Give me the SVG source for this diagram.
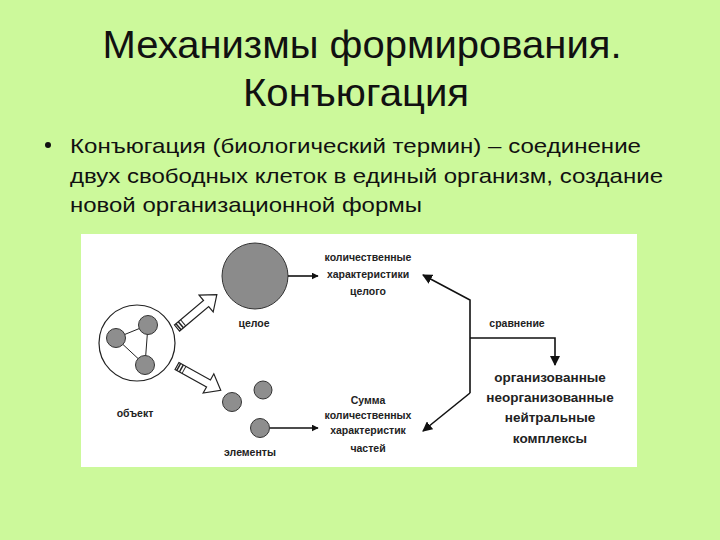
<svg xmlns="http://www.w3.org/2000/svg" width="720" height="540" viewBox="0 0 720 540">
<defs>
<style>
.title{font-family:"Liberation Sans",Arial,sans-serif;font-size:39px;fill:#111;text-anchor:middle}
.body{font-family:"Liberation Sans",Arial,sans-serif;font-size:21px;fill:#111}
.lbl{font-family:"Liberation Sans",Arial,sans-serif;font-size:10.5px;font-weight:bold;fill:#222;text-anchor:middle}
.big{font-family:"Liberation Sans",Arial,sans-serif;font-size:13.5px;font-weight:bold;fill:#222;text-anchor:middle}
.cell{fill:#8e8e8e;stroke:#333;stroke-width:1}
.ln{fill:none;stroke:#111;stroke-width:1.6}
.hollow{fill:#fff;stroke:#222;stroke-width:1.2;stroke-linejoin:miter}
</style>
<marker id="ah" viewBox="0 0 10 10" refX="9" refY="5" markerWidth="7" markerHeight="7" orient="auto" markerUnits="userSpaceOnUse">
<path d="M0,0 L10,5 L0,10 z" fill="#111"/>
</marker>
<marker id="ah2" viewBox="0 0 10 10" refX="9" refY="5" markerWidth="10" markerHeight="10" orient="auto" markerUnits="userSpaceOnUse">
<path d="M0,0 L10,5 L0,10 z" fill="#111"/>
</marker>
</defs>
<rect x="0" y="0" width="720" height="540" fill="#ccf99b"/>
<g id="title">
<text class="title" x="362" y="58" textLength="519" lengthAdjust="spacingAndGlyphs">Механизмы формирования.</text>
<text class="title" x="356" y="106" textLength="226" lengthAdjust="spacingAndGlyphs">Конъюгация</text>
</g>
<g id="bullet">
<circle cx="48" cy="145" r="3" fill="#111"/>
<text class="body" x="70" y="153" textLength="571" lengthAdjust="spacingAndGlyphs">Конъюгация (биологический термин) – соединение</text>
<text class="body" x="70" y="183" textLength="593" lengthAdjust="spacingAndGlyphs">двух свободных клеток в единый организм, создание</text>
<text class="body" x="70" y="212" textLength="352" lengthAdjust="spacingAndGlyphs">новой организационной формы</text>
</g>
<rect x="81" y="234" width="556" height="233" fill="#fff"/>
<g id="object">
<circle cx="137" cy="343" r="38" fill="#fff" stroke="#222" stroke-width="1.2"/>
<line x1="116" y1="338" x2="148" y2="325" stroke="#222" stroke-width="1"/>
<line x1="116" y1="338" x2="145" y2="365" stroke="#222" stroke-width="1"/>
<line x1="148" y1="325" x2="145" y2="365" stroke="#222" stroke-width="1"/>
<circle class="cell" cx="116" cy="338" r="9.5"/>
<circle class="cell" cx="148" cy="325" r="9.5"/>
<circle class="cell" cx="145" cy="365" r="9.5"/>
<text class="lbl" x="135" y="417">объект</text>
</g>
<g id="whole">
<circle cx="255" cy="276" r="33" fill="#8b8b8b" stroke="#333" stroke-width="1"/>
<text class="lbl" x="254" y="327">целое</text>
</g>
<g id="elements">
<circle class="cell" cx="232" cy="402" r="9.5"/>
<circle class="cell" cx="263" cy="390" r="9"/>
<circle class="cell" cx="260" cy="428" r="9.5"/>
<text class="lbl" x="250" y="456">элементы</text>
</g>
<g id="whole-char">
<text class="lbl" x="368" y="261">количественные</text>
<text class="lbl" x="368" y="278">характеристики</text>
<text class="lbl" x="368" y="295">целого</text>
</g>
<g id="parts-char">
<text class="lbl" x="368" y="404">Сумма</text>
<text class="lbl" x="368" y="419">количественных</text>
<text class="lbl" x="368" y="434">характеристик</text>
<text class="lbl" x="368" y="452">частей</text>
</g>
<g id="compare">
<text class="lbl" x="517" y="327">сравнение</text>
</g>
<g id="complexes">
<text class="big" x="550" y="382">организованные</text>
<text class="big" x="550" y="402">неорганизованные</text>
<text class="big" x="550" y="422">нейтральные</text>
<text class="big" x="550" y="443">комплексы</text>
</g>
<g id="connectors">
<g transform="translate(177,328) rotate(-40)">
<polygon class="hollow" points="0,-4 38,-4 38,-11 52,0 38,11 38,4 0,4"/>
<line x1="2" y1="-4" x2="2" y2="4" stroke="#222" stroke-width="1.5"/>
<line x1="5" y1="-4" x2="5" y2="4" stroke="#222" stroke-width="1.5"/>
<line x1="8" y1="-4" x2="8" y2="4" stroke="#222" stroke-width="1"/>
</g>
<g transform="translate(177,366) rotate(29)">
<polygon class="hollow" points="0,-4 36,-4 36,-11 50,0 36,11 36,4 0,4"/>
<line x1="2" y1="-4" x2="2" y2="4" stroke="#222" stroke-width="1.5"/>
<line x1="5" y1="-4" x2="5" y2="4" stroke="#222" stroke-width="1.5"/>
<line x1="8" y1="-4" x2="8" y2="4" stroke="#222" stroke-width="1"/>
</g>
<line class="ln" x1="288" y1="276" x2="318" y2="276" marker-end="url(#ah)"/>
<line class="ln" x1="270" y1="428" x2="318" y2="428" marker-end="url(#ah)"/>
<polyline class="ln" points="470,393 470,300 423,275" marker-end="url(#ah2)"/>
<line class="ln" x1="470" y1="393" x2="423" y2="431" marker-end="url(#ah2)"/>
<polyline class="ln" points="470,338 555,338 555,365" marker-end="url(#ah2)"/>
</g>
</svg>
